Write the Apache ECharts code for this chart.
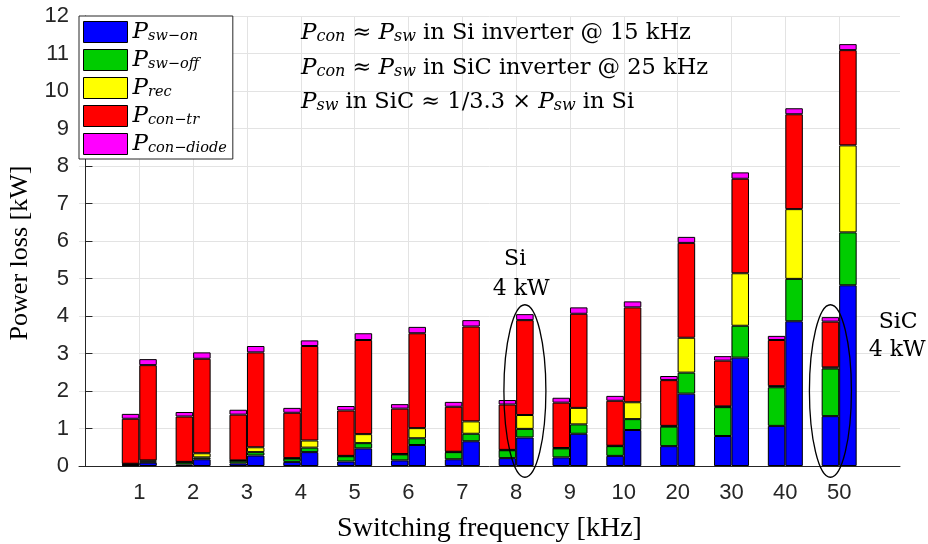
<!DOCTYPE html>
<html>
<head>
<meta charset="utf-8">
<script src="https://cdn.jsdelivr.net/npm/echarts@6/dist/echarts.min.js"></script>
<style>
  html, body { margin: 0; background: #fff; }
  #chart { width: 928px; height: 544px; }
</style>
</head>
<body>
<div id="chart"></div>
<script>
// 开关频率 (kHz)
const categories = ['1', '2', '3', '4', '5', '6', '7', '8', '9', '10', '20', '30', '40', '50'];

// SiC 逆变器损耗 (kW) —— 左侧柱
const sicSwOn     = [0.02, 0.04, 0.07, 0.11, 0.12, 0.15, 0.18, 0.21, 0.23, 0.27, 0.53, 0.80, 1.07, 1.33];
const sicSwOff    = [0.03, 0.06, 0.07, 0.09, 0.14, 0.16, 0.19, 0.21, 0.24, 0.26, 0.52, 0.77, 1.03, 1.27];
const sicRec      = [0.01, 0.01, 0.01, 0.01, 0.01, 0.01, 0.01, 0.01, 0.01, 0.01, 0.02, 0.02, 0.03, 0.03];
const sicConTr    = [1.20, 1.21, 1.22, 1.21, 1.21, 1.21, 1.20, 1.21, 1.21, 1.20, 1.22, 1.22, 1.23, 1.22];
const sicConDiode = [0.13, 0.12, 0.13, 0.13, 0.12, 0.12, 0.13, 0.12, 0.13, 0.13, 0.11, 0.12, 0.11, 0.12];

// Si 逆变器损耗 (kW) —— 右侧柱
const siSwOn     = [0.09, 0.18, 0.28, 0.37, 0.47, 0.56, 0.66, 0.76, 0.86, 0.96, 1.93, 2.89, 3.86, 4.82];
const siSwOff    = [0.03, 0.05, 0.09, 0.12, 0.14, 0.18, 0.20, 0.23, 0.25, 0.29, 0.56, 0.85, 1.13, 1.41];
const siRec      = [0.03, 0.11, 0.13, 0.19, 0.24, 0.27, 0.33, 0.37, 0.44, 0.45, 0.93, 1.40, 1.86, 2.32];
const siConTr    = [2.54, 2.52, 2.53, 2.52, 2.51, 2.53, 2.53, 2.53, 2.51, 2.53, 2.53, 2.52, 2.53, 2.54];
const siConDiode = [0.16, 0.17, 0.17, 0.15, 0.18, 0.17, 0.17, 0.16, 0.17, 0.16, 0.16, 0.17, 0.16, 0.16];

// y 轴刻度
const yTicks = [0, 1, 2, 3, 4, 5, 6, 7, 8, 9, 10, 11, 12];

const lossNames = ['sw−on', 'sw−off', 'rec', 'con−tr', 'con−diode'];
const lossColors = ['#0000ff', '#00cc00', '#ffff00', '#ff0000', '#ff00ff'];
const sicLosses = [sicSwOn, sicSwOff, sicRec, sicConTr, sicConDiode];
const siLosses = [siSwOn, siSwOff, siRec, siConTr, siConDiode];

const serif = "'Liberation Serif', 'Times New Roman', serif";
const texFont = "'DejaVu Serif', serif";   // 近似 LaTeX 字体
const sans = "'Liberation Sans', Arial, sans-serif";
const barW = 17.5;

// 数学公式样式 (P 斜体 + 下标)
const mathRich = {
  p: {fontFamily: texFont, fontStyle: 'italic', fontSize: 23, lineHeight: 26, verticalAlign: 'bottom', color: '#000'},
  s: {fontFamily: texFont, fontStyle: 'italic', fontSize: 16, lineHeight: 12, verticalAlign: 'bottom', color: '#000'},
  r: {fontFamily: texFont, fontSize: 22.5, lineHeight: 26, verticalAlign: 'bottom', color: '#000'}
};
const legendRich = {
  p: {fontFamily: texFont, fontStyle: 'italic', fontSize: 23, lineHeight: 24, verticalAlign: 'bottom', color: '#000'},
  s: {fontFamily: texFont, fontStyle: 'italic', fontSize: 14.5, lineHeight: 12, verticalAlign: 'bottom', color: '#000'}
};

const chart = echarts.init(document.getElementById('chart'));

const positions = categories.map((c, i) => i + 1);

// 数据按 [数值, 位置] 排列，使堆叠作用在 y 维度上
const makeSeries = (stack, losses) => lossNames.map((n, k) => ({
  name: n,
  type: 'bar',
  stack: stack,
  barWidth: barW,
  barGap: '0%',
  encode: {x: 1, y: 0},
  data: losses[k].map((v, i) => [v, positions[i]]),
  itemStyle: {color: lossColors[k], borderColor: '#000', borderWidth: 1}
}));

const annLines = [
  '{p|P}{s|con}{r| ≈ }{p|P}{s|sw}{r| in Si inverter @ 15 kHz}',
  '{p|P}{s|con}{r| ≈ }{p|P}{s|sw}{r| in SiC inverter @ 25 kHz}',
  '{p|P}{s|sw}{r| in SiC ≈ 1/3.3 × }{p|P}{s|sw}{r| in Si}'
];

const option = {
  animation: false,
  backgroundColor: '#fff',
  grid: {left: 79, right: 28, top: 16, bottom: 78, containLabel: false, outerBoundsMode: 'none'},
  legend: {
    orient: 'vertical',
    left: 79,
    top: 16,
    data: lossNames,
    itemWidth: 44,
    itemHeight: 21,
    itemGap: 5,
    padding: [5, 6, 3, 4],
    backgroundColor: '#fff',
    borderColor: '#262626',
    borderWidth: 1,
    borderRadius: 0,
    icon: 'rect',
    selectedMode: false,
    itemStyle: {borderColor: '#000', borderWidth: 1},
    formatter: n => '{p|P}{s|' + n + '}',
    textStyle: {rich: legendRich}
  },
  xAxis: {
    type: 'value',
    min: -0.12,
    max: 15.13,
    name: 'Switching frequency [kHz]',
    nameLocation: 'middle',
    nameGap: 49,
    nameTextStyle: {fontFamily: serif, fontSize: 28, color: '#000'},
    axisLine: {show: true, lineStyle: {color: '#262626', width: 1}},
    axisTick: {show: false, customValues: positions},
    axisLabel: {
      customValues: positions,
      formatter: v => categories[Math.round(v) - 1],
      fontFamily: sans, fontSize: 22, color: '#262626', margin: 16
    },
    splitLine: {show: true, lineStyle: {color: '#e3e3e3', width: 1}}
  },
  yAxis: {
    type: 'value',
    min: yTicks[0],
    max: yTicks[yTicks.length - 1],
    interval: 1,
    name: 'Power loss [kW]',
    nameLocation: 'middle',
    nameGap: 46,
    nameTextStyle: {fontFamily: serif, fontSize: 26, color: '#000', padding: [0, 24, 0, 0]},
    axisLine: {show: true, lineStyle: {color: '#262626', width: 1}},
    axisTick: {show: true, inside: true, length: 7, lineStyle: {color: '#262626'}},
    axisLabel: {fontFamily: sans, fontSize: 22, color: '#262626', margin: 10},
    splitLine: {show: true, lineStyle: {color: '#e3e3e3', width: 1}}
  },
  series: [...makeSeries('SiC', sicLosses), ...makeSeries('Si', siLosses)]
};

chart.setOption(option);

// 注释：文字与椭圆，位置通过坐标轴换算
const toPx = (x, y) => chart.convertToPixel({gridIndex: 0}, [x, y]);
const graphics = [];
annLines.forEach((t, i) => {
  graphics.push({
    type: 'text', x: 301, y: 19 + i * 34.5, z: 100,
    style: {text: t, rich: mathRich, align: 'left', verticalAlign: 'top'}
  });
});

const ellipseAt = (xIdx, side) => {
  const c = toPx(positions[xIdx], 2.0);
  const top = toPx(positions[xIdx], 4.3);
  return {
    type: 'ellipse', z: 100,
    shape: {cx: c[0] + side * barW / 2, cy: c[1], rx: 21, ry: c[1] - top[1]},
    style: {fill: 'none', stroke: '#000', lineWidth: 1.3}
  };
};
graphics.push(ellipseAt(7, 1));
graphics.push(ellipseAt(13, -1));

const label = (text, x, y) => ({
  type: 'text', x: x, y: y, z: 100,
  style: {text: text, fontFamily: texFont, fontSize: 22, fill: '#000', align: 'center', verticalAlign: 'bottom'}
});
const p8 = toPx(positions[7], 0);
const p50 = toPx(positions[13], 0);
graphics.push(label('Si', p8[0] - 1, 270));
graphics.push(label('4 kW', p8[0] + 5, 300));
graphics.push(label('SiC', p50[0] + 59, 333));
graphics.push(label('4 kW', p50[0] + 58, 361));

chart.setOption({graphic: graphics});
</script>
</body>
</html>
